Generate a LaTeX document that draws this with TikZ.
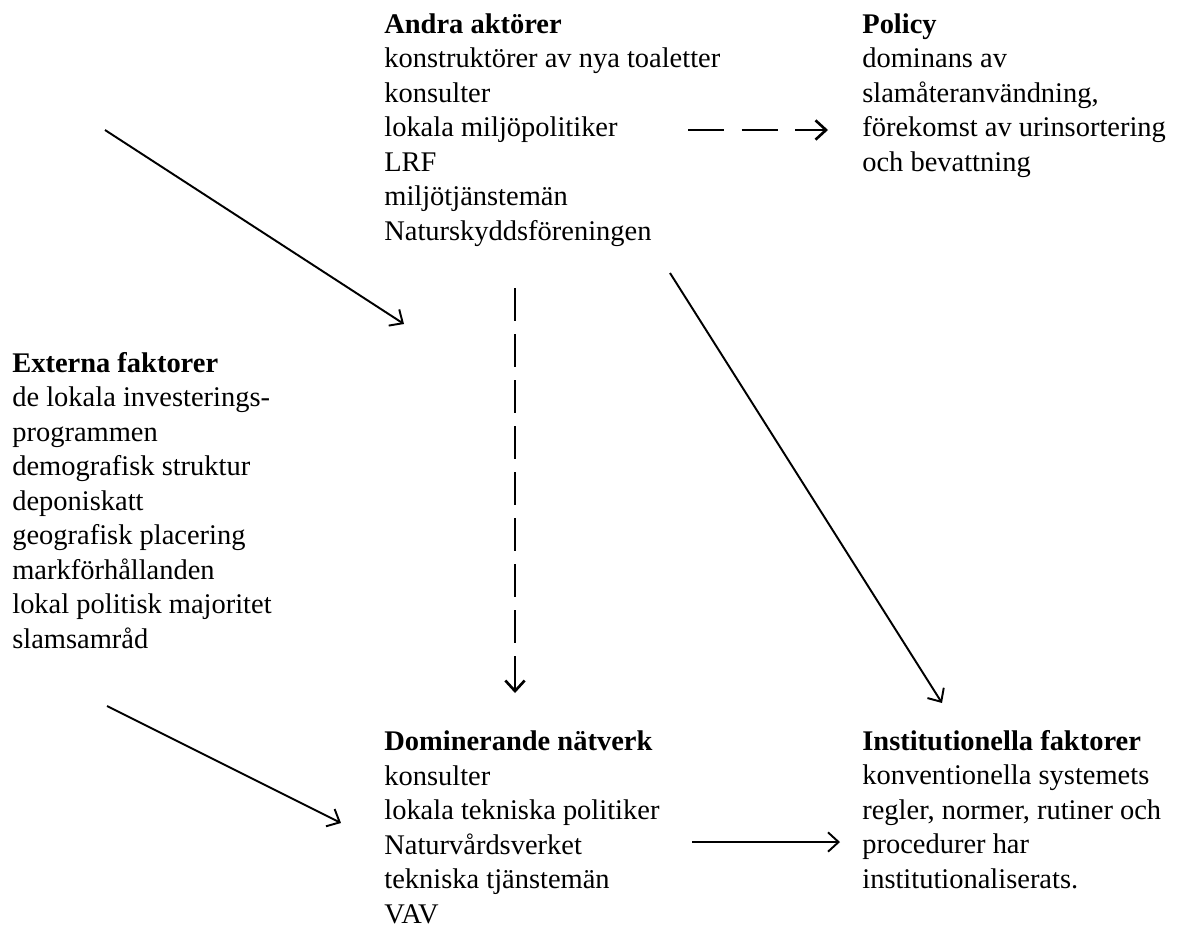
\documentclass[tikz,border=0pt]{standalone}
\usepackage{fontspec}
\setmainfont{Liberation Serif}
\usetikzlibrary{positioning}
\usetikzlibrary{arrows.meta}

\tikzset{
  textblock/.style={align=left, inner sep=0pt, anchor=base west,
    font=\fontsize{16.2}{19.6}\selectfont},
  link/.style={->, line width=1.1pt},
  dashlink/.style={link, line width=1.5pt},
  >={Straight Barb[length=6pt,width=11pt]},
}

\begin{document}
\begin{tikzpicture}[x=0.02cm, y=-0.02cm]
            \useasboundingbox (0,0) rectangle (1189,927);

            % Text blocks (placed by the baseline of their last line)
            \node[textblock] (Andra) at (384,240) {\textbf{Andra aktörer}\\
                konstruktörer av nya toaletter\\ konsulter\\ lokala miljöpolitiker\\
                LRF\\ miljötjänstemän\\ Naturskyddsföreningen};
            \node[textblock] (Policy) at (862,171) {\textbf{Policy}\\
                dominans av\\ slamåteranvändning,\\ förekomst av urinsortering\\
                och bevattning};
            \node[textblock] (Externa) at (12,648) {\textbf{Externa faktorer}\\
                de lokala investerings-\\ programmen\\ demografisk struktur\\
                deponiskatt\\ geografisk placering\\ markförhållanden\\
                lokal politisk majoritet\\ slamsamråd};
            \node[textblock] (Dominerande) at (384,923) {\textbf{Dominerande nätverk}\\
                konsulter\\ lokala tekniska politiker\\ Naturvårdsverket\\
                tekniska tjänstemän\\ VAV};
            \node[textblock] (Institutionella) at (862,888) {\textbf{Institutionella faktorer}\\
                konventionella systemets\\ regler, normer, rutiner och\\
                procedurer har\\ institutionaliserats.};

            % Arrow ends
            \coordinate (A1) at (105,130);  \coordinate (A2) at (404,324);
            \coordinate (B1) at (107,706);  \coordinate (B2) at (341,823);
            \coordinate (C1) at (515,288);  \coordinate (C2) at (515,693);
            \coordinate (D1) at (688,130);  \coordinate (D2) at (828,130);
            \coordinate (E1) at (670,273);  \coordinate (E2) at (942,703);
            \coordinate (F1) at (692,842);  \coordinate (F2) at (840,842);

            \draw[link] (A1) -- (A2);
            \draw[link] (B1) -- (B2);
            \draw[dashlink, dash pattern=on 18.8pt off 7.4pt] (C1) -- (C2);
            \draw[dashlink, dash pattern=on 20.5pt off 10pt] (D1) -- (D2);
            \draw[link] (E1) -- (E2);
            \draw[link] (F1) -- (F2);
        \end{tikzpicture}
\end{document}
